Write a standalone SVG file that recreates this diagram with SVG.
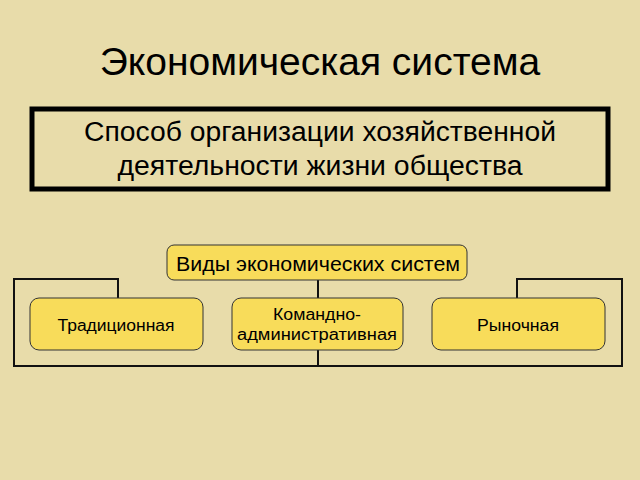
<svg xmlns="http://www.w3.org/2000/svg" width="640" height="480" viewBox="0 0 640 480">
<style>
.t{font-family:"Liberation Sans",Arial,sans-serif;fill:#000;text-anchor:middle}
.n{fill:#f8dc5a;stroke:#333;stroke-width:1}
.c{fill:none;stroke:#111;stroke-width:2}
</style>
<rect width="640" height="480" fill="#e8dcaa"/>
<text class="t" x="320" y="75" font-size="39">Экономическая система</text>
<g id="def">
<rect x="32" y="109" width="576" height="80" fill="none" stroke="#000" stroke-width="5"/>
<text class="t" x="320" y="141" font-size="27" textLength="472" lengthAdjust="spacingAndGlyphs">Способ организации хозяйственной</text>
<text class="t" x="320" y="175" font-size="27" textLength="405" lengthAdjust="spacingAndGlyphs">деятельности жизни общества</text>
</g>
<g id="connectors">
<polyline class="c" points="118,298 118,279 14,279 14,366 622,366 622,279 517,279 517,298"/>
<line class="c" x1="318" y1="280" x2="318" y2="298"/>
<line class="c" x1="318" y1="350" x2="318" y2="366"/>
</g>
<g id="root"><rect class="n" x="167" y="245" width="300" height="35" rx="7"/>
<text class="t" x="318" y="271" font-size="20" textLength="284" lengthAdjust="spacingAndGlyphs">Виды экономических систем</text></g>
<g id="trad"><rect class="n" x="30" y="298" width="173" height="52" rx="9"/>
<text class="t" x="116" y="331" font-size="16" textLength="117" lengthAdjust="spacingAndGlyphs">Традиционная</text></g>
<g id="cmd"><rect class="n" x="232" y="298" width="171" height="52" rx="9"/>
<text class="t" x="317" y="320" font-size="16" textLength="88" lengthAdjust="spacingAndGlyphs">Командно-</text>
<text class="t" x="317" y="340" font-size="16" textLength="160" lengthAdjust="spacingAndGlyphs">административная</text></g>
<g id="mkt"><rect class="n" x="432" y="298" width="173" height="52" rx="9"/>
<text class="t" x="518" y="331" font-size="16" textLength="82" lengthAdjust="spacingAndGlyphs">Рыночная</text></g>
</svg>
